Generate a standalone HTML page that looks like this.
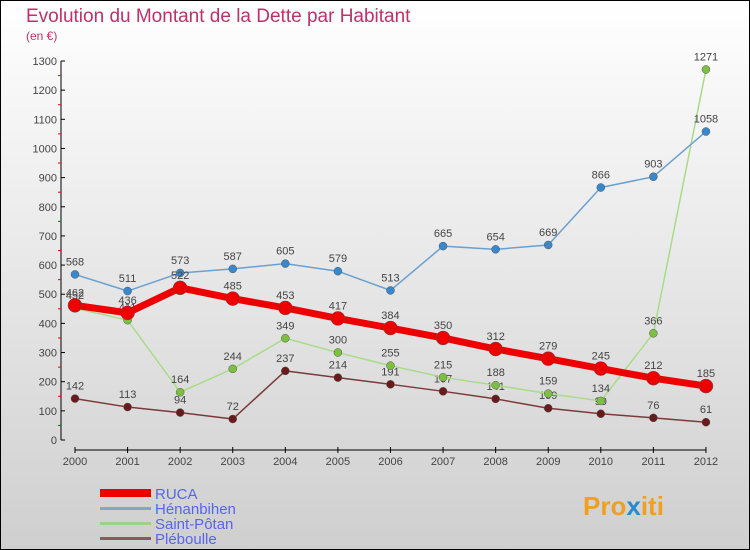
<!DOCTYPE html>
<html><head><meta charset="utf-8"><style>
body{margin:0}
#wrap{width:750px;height:550px;position:relative;box-sizing:border-box;border:1px solid #000;background:linear-gradient(#ffffff,#cfcfcf);font-family:"Liberation Sans",sans-serif;overflow:hidden}
svg text{font-family:"Liberation Sans",sans-serif}
</style></head><body>
<div id="wrap">
<svg id="chart" width="750" height="550" style="position:absolute;left:-1px;top:-1px">
<text x="26" y="22" font-size="19" fill="#c0306a">Evolution du Montant de la Dette par Habitant</text>
<text x="26" y="40" font-size="12" fill="#c0306a">(en €)</text>
<g id="axes"></g><g id="series"></g>
<g>
<rect x="100" y="489" width="51" height="8" fill="#e00"/>
<text x="155" y="499" font-size="15" fill="#5566ee">RUCA</text>
<rect x="100" y="507" width="51" height="3" fill="#7fa8c8"/>
<text x="155" y="514" font-size="15" fill="#5566ee">Hénanbihen</text>
<rect x="100" y="522" width="51" height="3" fill="#9ed08a"/>
<text x="155" y="529" font-size="15" fill="#5566ee">Saint-Pôtan</text>
<rect x="100" y="537" width="51" height="3" fill="#8a5a5a"/>
<text x="155" y="544" font-size="15" fill="#5566ee">Pléboulle</text>
</g>
<text x="583" y="515" font-size="26" font-weight="bold" fill="#f0a020">Pro<tspan fill="#2a8ad0">x</tspan>iti</text>
</svg>
</div>
<script>
const years=[2000,2001,2002,2003,2004,2005,2006,2007,2008,2009,2010,2011,2012];
const ruca=[462,436,522,485,453,417,384,350,312,279,245,212,185];
const henanbihen=[568,511,573,587,605,579,513,665,654,669,866,903,1058];
const saintPotan=[452,411,164,244,349,300,255,215,188,159,134,366,1271];
const pleboulle=[142,113,94,72,237,214,191,167,141,109,90,76,61];
const yTicks=[0,100,200,300,400,500,600,700,800,900,1000,1100,1200,1300];
const NS="http://www.w3.org/2000/svg";
const X=i=>75+i*52.58;
const Y=v=>440-v*(379/1300);
function mk(tag,attrs,parent){const e=document.createElementNS(NS,tag);for(const k in attrs)e.setAttribute(k,attrs[k]);parent.appendChild(e);return e;}
const ax=document.getElementById('axes');
let l=mk('line',{x1:61,y1:61,x2:61,y2:440,stroke:'#000'},ax);


yTicks.forEach((t,k)=>{
 mk('line',{x1:61,x2:65,y1:Y(t),y2:Y(t),stroke:'#000'},ax);
 if(k<yTicks.length-1) mk('line',{x1:58,x2:61,y1:Y(t+50),y2:Y(t+50),stroke:'#e00'},ax);
 const tx=mk('text',{x:57,y:Y(t)+4,'text-anchor':'end','font-size':11,fill:'#444'},ax);
 tx.textContent=t;
 
 
});
l=mk('line',{x1:75,y1:450,x2:X(12),y2:450,stroke:'#000'},ax);


years.forEach((y,i)=>{
 mk('line',{x1:X(i),x2:X(i),y1:447,y2:453,stroke:'#000'},ax);
 const tx=mk('text',{x:X(i),y:465,'text-anchor':'middle','font-size':11,fill:'#444'},ax);
 tx.textContent=y;
 
 
});
const sg=document.getElementById('series');
function draw(data,name,color,dot,w,r){
 const g=mk('g',{},sg);
 
 
 const p=mk('polyline',{points:data.map((v,i)=>X(i)+','+Y(v)).join(' '),fill:'none',stroke:color,'stroke-width':w,'stroke-linejoin':'round'},g);
 
 
 data.forEach((v,i)=>{
  const c=mk('circle',{cx:X(i),cy:Y(v),r:r,fill:dot,stroke:'#555','stroke-width':0.5},g);
  
  
  const t=mk('text',{x:X(i),y:Y(v)-9,'text-anchor':'middle','font-size':11,fill:'#444'},g);
  t.textContent=v;
  
  
 });
}
draw(pleboulle,'pleboulle','#7a3a3a','#6a1a1a',1.5,4);
draw(saintPotan,'saint-potan','#a8dc88','#7cc040',1.5,4);
draw(henanbihen,'henanbihen','#6aa0d0','#3a88cc',1.5,4);
draw(ruca,'ruca','#ee0000','#ee0000',7,7);
</script>
</body></html>
